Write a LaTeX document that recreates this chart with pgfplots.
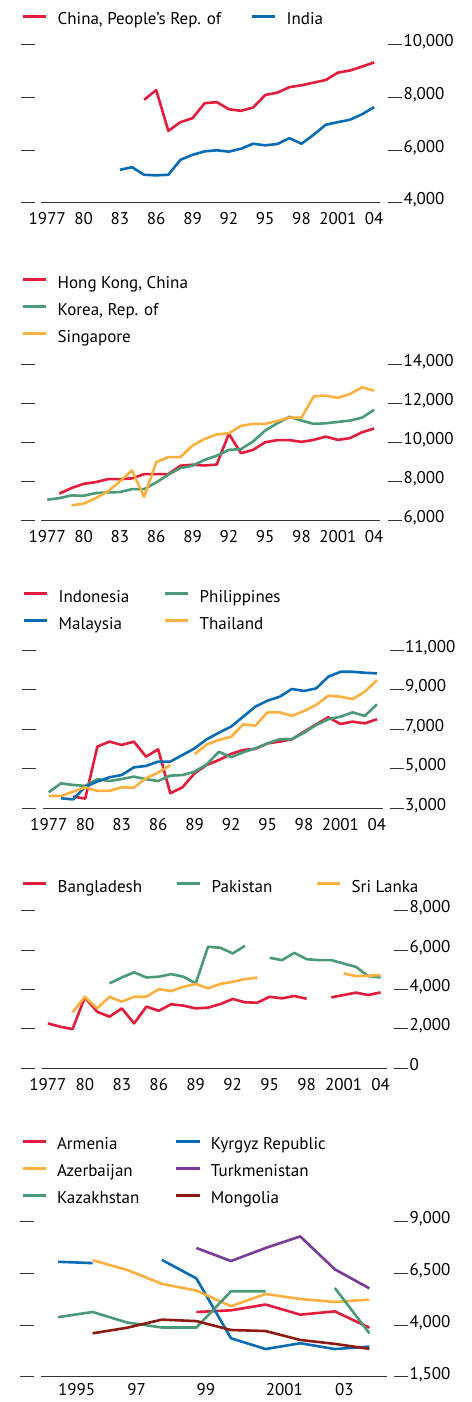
\documentclass[border=0pt]{standalone}
\usepackage{fontspec}
\setmainfont{PT Sans}
\usepackage{pgfplots}
\pgfplotsset{compat=1.18}
\definecolor{cred}{HTML}{E31B3C}
\definecolor{cblue}{HTML}{0A6BB5}
\definecolor{cgreen}{HTML}{4B9A77}
\definecolor{cyellow}{HTML}{FDB03F}
\definecolor{cpurple}{HTML}{7A3A9A}
\definecolor{cdred}{HTML}{8E1B12}
\definecolor{ctick}{HTML}{333333}
\newcommand\tickfont{\fontsize{17}{20}\selectfont}
\newcommand\legtxt[2]{\makebox[#1][l]{\strut #2}}
\pgfplotsset{
  panel/.style={
    scale only axis,
    axis line style={draw=none},
    enlargelimits=false, clip=false,
    scaled y ticks=false, scaled x ticks=false,
    ytick pos=both, yticklabel pos=right,
    xtick pos=left,
    tick align=inside,
    major tick length=14.3pt, minor tick length=4pt,
    tick style={ctick, line width=1pt},
    yticklabel style={anchor=base west, yshift=-2pt, inner sep=1pt, font=\tickfont, text=black},
    xticklabel style={anchor=base, yshift=-22pt, font=\tickfont, text=black},
    xtick=\empty,
    extra x tick style={tick style={draw=none}},
    unbounded coords=jump,
    every axis plot/.append style={line width=2.6pt, mark=none, line join=round},
    legend cell align=left,
    legend image code/.code={\draw[##1, line width=3pt] (0pt,2pt) -- (23pt,2pt);},
    legend style={draw=none, fill=none, at={(0,1)}, anchor=south west, xshift=1pt,
      inner sep=0pt, outer sep=0pt, row sep=11.5pt, column sep=0pt,
      font=\tickfont, nodes={inner sep=0pt},
      /tikz/every odd column/.style={column sep=10pt}},
  },
  longx/.style={
    extra x ticks={1977,1980,...,2004},
    extra x tick labels={1977,80,83,86,89,92,95,98,2001,04},
    minor xtick={1976.5,1977.5,...,2004.5},
  },
}
\begin{document}
\begin{tikzpicture}
\path[use as bounding box] (0pt,0pt) rectangle (471pt,1402pt);

% ---------------- Panel 1
\begin{axis}[panel, longx, at={(20.7pt,1199pt)}, anchor=south west,
  width=381.6pt, height=158pt,
  xmin=1974.807, xmax=2006.325, ymin=4000, ymax=10000,
  ytick={4000,6000,8000,10000}, yticklabels={{4,000},{6,000},{8,000},{10,000}},
  legend columns=2, legend style={yshift=18.5pt}]
\addplot[cred] coordinates {(1985,7920)(1986,8290)(1987,6740)(1988,7070)(1989,7220)(1990,7790)(1991,7830)(1992,7560)(1993,7500)(1994,7625)(1995,8100)(1996,8190)(1997,8400)(1998,8470)(1999,8570)(2000,8670)(2001,8950)(2002,9030)(2003,9180)(2004,9340)};
\addlegendentry{\legtxt{193pt}{China, People’s Rep. of}}
\addplot[cblue] coordinates {(1983,5260)(1984,5360)(1985,5070)(1986,5050)(1987,5070)(1988,5640)(1989,5830)(1990,5960)(1991,6000)(1992,5950)(1993,6060)(1994,6250)(1995,6190)(1996,6240)(1997,6460)(1998,6250)(1999,6590)(2000,6970)(2001,7070)(2002,7160)(2003,7370)(2004,7640)};
\addlegendentry{\legtxt{60pt}{India}}
\draw[ctick, line width=1pt] (axis cs:1976.5,4000) -- (axis cs:2004.5,4000);
\end{axis}

% ---------------- Panel 2
\begin{axis}[panel, longx, at={(20.7pt,881pt)}, anchor=south west,
  width=381.6pt, height=156.3pt,
  xmin=1974.807, xmax=2006.325, ymin=6000, ymax=14000,
  ytick={6000,8000,10000,12000,14000}, yticklabels={{6,000},{8,000},{10,000},{12,000},{14,000}},
  legend columns=1, legend style={yshift=21pt}]
\addplot[cred] coordinates {(1978,7400)(1979,7685)(1980,7900)(1981,7990)(1982,8140)(1983,8140)(1984,8180)(1985,8400)(1986,8400)(1987,8400)(1988,8830)(1989,8880)(1990,8840)(1991,8890)(1992,10460)(1993,9470)(1994,9640)(1995,10030)(1996,10140)(1997,10140)(1998,10050)(1999,10150)(2000,10320)(2001,10150)(2002,10240)(2003,10540)(2004,10730)};
\addlegendentry{\legtxt{150pt}{Hong Kong, China}}
\addplot[cgreen] coordinates {(1977,7090)(1978,7170)(1979,7310)(1980,7290)(1981,7430)(1982,7460)(1983,7480)(1984,7630)(1985,7630)(1986,7970)(1987,8370)(1988,8710)(1989,8830)(1990,9130)(1991,9340)(1992,9640)(1993,9680)(1994,10070)(1995,10630)(1996,11000)(1997,11330)(1998,11140)(1999,10970)(2000,11000)(2001,11070)(2002,11140)(2003,11290)(2004,11690)};
\addlegendentry{\legtxt{150pt}{Korea, Rep. of}}
\addplot[cyellow] coordinates {(1979,6800)(1980,6885)(1981,7170)(1982,7510)(1983,8030)(1984,8590)(1985,7230)(1986,9010)(1987,9270)(1988,9270)(1989,9860)(1990,10200)(1991,10430)(1992,10490)(1993,10870)(1994,10970)(1995,10970)(1996,11120)(1997,11290)(1998,11290)(1999,12370)(2000,12420)(2001,12300)(2002,12500)(2003,12840)(2004,12670)};
\addlegendentry{\legtxt{150pt}{Singapore}}
\draw[ctick, line width=1pt] (axis cs:1976.5,6000) -- (axis cs:2004.5,6000);
\end{axis}

% ---------------- Panel 3
\begin{axis}[panel, longx, at={(21.7pt,593.7pt)}, anchor=south west,
  width=382.3pt, height=158.3pt,
  xmin=1974.772, xmax=2006.228, ymin=3000, ymax=11000,
  ytick={3000,5000,7000,9000,11000}, yticklabels={{3,000},{5,000},{7,000},{9,000},{11,000}},
  legend columns=2, legend style={yshift=19.5pt}]
\addplot[cred] coordinates {(1979,3590)(1980,3490)(1981,6120)(1982,6370)(1983,6200)(1984,6370)(1985,5610)(1986,5980)(1987,3760)(1988,4060)(1989,4770)(1990,5190)(1991,5440)(1992,5750)(1993,5950)(1994,6000)(1995,6280)(1996,6370)(1997,6490)(1998,6870)(1999,7240)(2000,7600)(2001,7260)(2002,7380)(2003,7290)(2004,7500)};
\addlegendentry{\legtxt{105pt}{Indonesia}}
\addplot[cgreen] coordinates {(1977,3810)(1978,4260)(1979,4180)(1980,4130)(1981,4470)(1982,4380)(1983,4480)(1984,4600)(1985,4470)(1986,4380)(1987,4650)(1988,4680)(1989,4850)(1990,5220)(1991,5860)(1992,5580)(1993,5830)(1994,6030)(1995,6280)(1996,6490)(1997,6490)(1998,6820)(1999,7210)(2000,7500)(2001,7630)(2002,7850)(2003,7670)(2004,8250)};
\addlegendentry{\legtxt{100pt}{Philippines}}
\addplot[cblue] coordinates {(1978,3505)(1979,3450)(1980,4090)(1981,4350)(1982,4570)(1983,4680)(1984,5070)(1985,5140)(1986,5360)(1987,5360)(1988,5690)(1989,6030)(1990,6490)(1991,6820)(1992,7130)(1993,7630)(1994,8140)(1995,8440)(1996,8640)(1997,9030)(1998,8930)(1999,9060)(2000,9650)(2001,9900)(2002,9900)(2003,9850)(2004,9820)};
\addlegendentry{\legtxt{105pt}{Malaysia}}
\addplot[cyellow] coordinates {(1977,3620)(1978,3620)(1979,3840)(1980,4060)(1981,3880)(1982,3880)(1983,4060)(1984,4040)(1985,4520)(1986,4800)(1987,5190)(1988,nan)(1989,5730)(1990,6230)(1991,6450)(1992,6620)(1993,7240)(1994,7180)(1995,7850)(1996,7850)(1997,7670)(1998,7920)(1999,8220)(2000,8690)(2001,8640)(2002,8520)(2003,8890)(2004,9480)};
\addlegendentry{\legtxt{100pt}{Thailand}}
\draw[ctick, line width=1pt] (axis cs:1976.5,3000) -- (axis cs:2004.5,3000);
\end{axis}

% ---------------- Panel 4
\begin{axis}[panel, longx, at={(20.7pt,333.7pt)}, anchor=south west,
  width=387.6pt, height=157.6pt,
  xmin=1974.796, xmax=2006.253, ymin=0, ymax=8000,
  ytick={0,2000,4000,6000,8000}, yticklabels={0,{2,000},{4,000},{6,000},{8,000}},
  legend columns=3, legend style={yshift=17.2pt}]
\addplot[cred] coordinates {(1977,2280)(1978,2110)(1979,1990)(1980,3600)(1981,2870)(1982,2620)(1983,3040)(1984,2280)(1985,3130)(1986,2920)(1987,3250)(1988,3180)(1989,3040)(1990,3080)(1991,3260)(1992,3520)(1993,3350)(1994,3330)(1995,3630)(1996,3550)(1997,3670)(1998,3530)(1999,nan)(2000,3600)(2001,3720)(2002,3840)(2003,3720)(2004,3850)};
\addlegendentry{\legtxt{118pt}{Bangladesh}}
\addplot[cgreen] coordinates {(1982,4310)(1983,4610)(1984,4870)(1985,4610)(1986,4650)(1987,4780)(1988,4650)(1989,4310)(1990,6170)(1991,6120)(1992,5830)(1993,6220)(1994,nan)(1995,5610)(1996,5490)(1997,5860)(1998,5540)(1999,5490)(2000,5490)(2001,5320)(2002,5150)(2003,4680)(2004,4610)};
\addlegendentry{\legtxt{104pt}{Pakistan}}
\addplot[cyellow] coordinates {(1979,2840)(1980,3630)(1981,3040)(1982,3630)(1983,3380)(1984,3630)(1985,3630)(1986,4020)(1987,3920)(1988,4140)(1989,4280)(1990,4060)(1991,4280)(1992,4390)(1993,4530)(1994,4600)(1995,nan)(2001,4820)(2002,4680)(2003,4700)(2004,4730)};
\addlegendentry{\legtxt{100pt}{Sri Lanka}}
\draw[ctick, line width=1pt] (axis cs:1976.5,0) -- (axis cs:2004.5,0);
\end{axis}

% ---------------- Panel 5
\begin{axis}[panel, at={(20pt,25pt)}, anchor=south west,
  width=388.3pt, height=155.3pt,
  xmin=1993.902, xmax=2005.124, ymin=1500, ymax=9000,
  extra x ticks={1995,1997,...,2003}, extra x tick labels={1995,97,99,2001,03},
  minor xtick={1994.5,1995.5,...,2004.5},
  xticklabel style={anchor=base west, inner xsep=0pt, yshift=3pt},
  ytick={1500,4000,6500,9000}, yticklabels={{1,500},{4,000},{6,500},{9,000}},
  legend columns=2, legend style={yshift=16.9pt}]
\addplot[cred] coordinates {(1999,4640)(2000,4720)(2001,5000)(2002,4510)(2003,4670)(2004,3880)};
\addlegendentry{\legtxt{118pt}{Armenia}}
\addplot[cblue] coordinates {(1995,7065)(1996,7000)(1997,nan)(1998,7160)(1999,6260)(2000,3370)(2001,2850)(2002,3130)(2003,2850)(2004,2970)};
\addlegendentry{\legtxt{150pt}{Kyrgyz Republic}}
\addplot[cyellow] coordinates {(1996,7140)(1997,6670)(1998,6000)(1999,5670)(2000,4920)(2001,5510)(2002,5270)(2003,5120)(2004,5240)};
\addlegendentry{\legtxt{118pt}{Azerbaijan}}
\addplot[cpurple] coordinates {(1999,7730)(2000,7100)(2001,7730)(2002,8290)(2003,6700)(2004,5780)};
\addlegendentry{\legtxt{150pt}{Turkmenistan}}
\addplot[cgreen] coordinates {(1995,4390)(1996,4640)(1997,4130)(1998,3890)(1999,3890)(2000,5640)(2001,5640)(2002,nan)(2003,5800)(2004,3610)};
\addlegendentry{\legtxt{118pt}{Kazakhstan}}
\addplot[cdred] coordinates {(1996,3610)(1997,3880)(1998,4270)(1999,4200)(2000,3770)(2001,3720)(2002,3290)(2003,3100)(2004,2860)};
\addlegendentry{\legtxt{150pt}{Mongolia}}
\draw[ctick, line width=1pt] (axis cs:1994.5,1500) -- (axis cs:2004.5,1500);
\end{axis}
\end{tikzpicture}
\end{document}
